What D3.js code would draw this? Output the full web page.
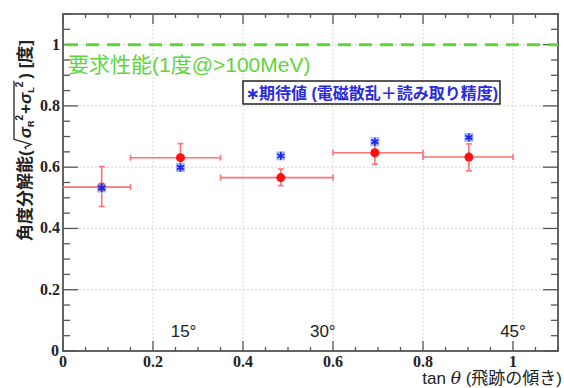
<!DOCTYPE html>
<html>
<head>
<meta charset="utf-8">
<script src="https://cdn.jsdelivr.net/npm/d3@7"></script>
<style>
  body { margin: 0; background: #fff; }
  svg { display: block; }
</style>
</head>
<body>
<svg id="chart" width="564" height="388"></svg>
<script>
// measured values (tan theta bins)
const binCenters = [0.086, 0.261, 0.484, 0.693, 0.902];
const binLow = [0.0, 0.15, 0.35, 0.6, 0.8];
const binHigh = [0.15, 0.35, 0.6, 0.8, 1.0];
const measured = [0.535, 0.631, 0.566, 0.647, 0.633];
const errLow = [0.472, 0.588, 0.540, 0.610, 0.588];
const errHigh = [0.602, 0.677, 0.594, 0.680, 0.676];
// expected values (blue stars)
const expected = [0.532, 0.599, 0.637, 0.683, 0.697];
const requirement = 1.0;
const angleLabels = ["15°", "30°", "45°"];
const angleDeg = [15, 30, 45];
const xTicks = [0, 0.2, 0.4, 0.6, 0.8, 1];
const yTicks = [0, 0.2, 0.4, 0.6, 0.8, 1];

const MARGIN = { left: 63, top: 14, right: 6, bottom: 37 };
const W = 564, H = 388;
const svg = d3.select("#chart");

const x = d3.scaleLinear().domain([0, 1.1]).range([MARGIN.left, W - MARGIN.right]);
const y = d3.scaleLinear().domain([0, 1.1]).range([H - MARGIN.bottom, MARGIN.top]);

const axisColor = "#555";
const serif = "Liberation Serif, Times New Roman, serif";
const jp = "Liberation Sans, Noto Sans CJK JP, sans-serif";

// grid
const grid = svg.append("g");
grid.selectAll(".gx").data(xTicks.slice(1)).enter().append("line")
  .attr("x1", d => x(d)).attr("x2", d => x(d))
  .attr("y1", y(0)).attr("y2", y(1.1))
  .attr("stroke", "#d4d4d4").attr("stroke-dasharray", "2,2");
grid.selectAll(".gy").data(yTicks.slice(1)).enter().append("line")
  .attr("x1", x(0)).attr("x2", x(1.1))
  .attr("y1", d => y(d)).attr("y2", d => y(d))
  .attr("stroke", "#d4d4d4").attr("stroke-dasharray", "2,2");

// axes with inward ticks on all four sides
const minorX = d3.range(0, 1.1001, 0.05);
const minorY = d3.range(0, 1.1001, 0.05);
const isMajor = v => Math.abs(v * 5 - Math.round(v * 5)) < 1e-6;

const ax = svg.append("g").attr("stroke", axisColor).attr("stroke-width", 1.3);
ax.selectAll(".tb").data(minorX).enter().append("line")
  .attr("x1", d => x(d)).attr("x2", d => x(d))
  .attr("y1", y(0)).attr("y2", d => y(0) - (isMajor(d) ? 10 : 4));
ax.selectAll(".tt").data(minorX).enter().append("line")
  .attr("x1", d => x(d)).attr("x2", d => x(d))
  .attr("y1", y(1.1)).attr("y2", d => y(1.1) + (isMajor(d) ? 10 : 4));
ax.selectAll(".tl").data(minorY).enter().append("line")
  .attr("y1", d => y(d)).attr("y2", d => y(d))
  .attr("x1", x(0)).attr("x2", d => x(0) + (isMajor(d) ? 15 : 7));
ax.selectAll(".tr").data(minorY).enter().append("line")
  .attr("y1", d => y(d)).attr("y2", d => y(d))
  .attr("x1", x(1.1)).attr("x2", d => x(1.1) - (isMajor(d) ? 15 : 7));
svg.append("rect")
  .attr("x", x(0)).attr("y", y(1.1))
  .attr("width", x(1.1) - x(0)).attr("height", y(0) - y(1.1))
  .attr("fill", "none").attr("stroke", axisColor).attr("stroke-width", 1.8);

// tick labels
svg.selectAll(".xl").data(xTicks).enter().append("text")
  .attr("x", d => x(d)).attr("y", 367)
  .attr("text-anchor", "middle")
  .attr("font-family", serif).attr("font-weight", "bold").attr("font-size", 16)
  .attr("fill", "#222").text(d => d3.format("~g")(d));
svg.selectAll(".yl").data(yTicks).enter().append("text")
  .attr("x", d => d === 0 ? 59 : 60).attr("y", d => y(d) + 5)
  .attr("text-anchor", "end")
  .attr("font-family", serif).attr("font-weight", "bold").attr("font-size", 16)
  .attr("fill", "#222").text(d => d3.format("~g")(d));

// requirement line
svg.append("line")
  .attr("x1", x(0)).attr("x2", x(1.1))
  .attr("y1", y(requirement)).attr("y2", y(requirement))
  .attr("stroke", "#5fd43c").attr("stroke-width", 3)
  .attr("stroke-dasharray", "13,8").attr("stroke-dashoffset", -2);
svg.append("text")
  .attr("x", 68).attr("y", 72)
  .attr("font-family", jp).attr("font-size", 21)
  .attr("fill", "#5fd43c")
  .text("要求性能(1度@>100MeV)");

// legend
svg.append("rect")
  .attr("x", 243).attr("y", 81).attr("width", 257).attr("height", 23)
  .attr("fill", "#fff").attr("stroke", "#222").attr("stroke-width", 1.5);
svg.append("text")
  .attr("x", 246).attr("y", 98.5)
  .attr("font-family", jp).attr("font-weight", "bold").attr("font-size", 16)
  .attr("fill", "#2b2bdc")
  .text("∗期待値 (電磁散乱＋読み取り精度)");

// measured error bars
const red = "#ff7373";
const pts = binCenters.map((c, i) => ({
  c, lo: binLow[i], hi: binHigh[i], v: measured[i], el: errLow[i], eh: errHigh[i], e: expected[i]
}));
const eb = svg.append("g").attr("stroke", red).attr("stroke-width", 1.6);
eb.selectAll(".h").data(pts).enter().append("line")
  .attr("x1", d => x(d.lo)).attr("x2", d => x(d.hi))
  .attr("y1", d => y(d.v)).attr("y2", d => y(d.v));
eb.selectAll(".hc").data(pts.filter(d => d.lo > 0)).enter().append("line")
  .attr("x1", d => x(d.lo)).attr("x2", d => x(d.lo))
  .attr("y1", d => y(d.v) - 3).attr("y2", d => y(d.v) + 3);
eb.selectAll(".hc2").data(pts).enter().append("line")
  .attr("x1", d => x(d.hi)).attr("x2", d => x(d.hi))
  .attr("y1", d => y(d.v) - 3).attr("y2", d => y(d.v) + 3);
eb.selectAll(".v").data(pts).enter().append("line")
  .attr("x1", d => x(d.c)).attr("x2", d => x(d.c))
  .attr("y1", d => y(d.el)).attr("y2", d => y(d.eh));
eb.selectAll(".vc").data(pts.flatMap(d => [[d.c, d.el], [d.c, d.eh]])).enter().append("line")
  .attr("x1", d => x(d[0]) - 3).attr("x2", d => x(d[0]) + 3)
  .attr("y1", d => y(d[1])).attr("y2", d => y(d[1]));

// measured points
svg.selectAll(".pt").data(pts).enter().append("circle")
  .attr("cx", d => x(d.c)).attr("cy", d => y(d.v)).attr("r", 4.5)
  .attr("fill", "#ff1010");

// expected (blue stars on a light square)
const star = svg.append("g");
star.selectAll("rect").data(pts).enter().append("rect")
  .attr("x", d => x(d.c) - 4.5).attr("y", d => y(d.e) - 4.5)
  .attr("width", 9).attr("height", 9)
  .attr("fill", "#8fa0ff").attr("opacity", 0.75);
star.selectAll("path").data(pts).enter().append("path")
  .attr("transform", d => `translate(${x(d.c)},${y(d.e)})`)
  .attr("d", d3.symbol(d3.symbolAsterisk, 45)())
  .attr("stroke", "#1a22e0").attr("stroke-width", 1.6).attr("fill", "none");

// angle labels
svg.selectAll(".ang").data(angleLabels).enter().append("text")
  .attr("x", (d, i) => x(Math.tan(angleDeg[i] * Math.PI / 180)))
  .attr("y", 337)
  .attr("text-anchor", "middle")
  .attr("font-family", "Liberation Sans, Arial, sans-serif").attr("font-size", 17)
  .attr("fill", "#222").text(d => d);

// x axis title
const xt = svg.append("text")
  .attr("x", 562).attr("y", 384).attr("text-anchor", "end")
  .attr("font-family", jp).attr("font-size", 17).attr("fill", "#222");
xt.append("tspan").text("tan ");
xt.append("tspan").attr("font-style", "italic").attr("font-family", "DejaVu Serif, serif").text("θ");
xt.append("tspan").text(" (飛跡の傾き)");

// y axis title: pieces laid out along the rotated baseline
const yg = svg.append("g").attr("transform", "translate(31,241) rotate(-90)")
  .attr("font-family", jp).attr("font-weight", "bold").attr("fill", "#222");
let cx = 0;
function piece(str, size, dy, italic) {
  const t = yg.append("text").attr("x", cx).attr("y", dy)
    .attr("font-size", size).text(str);
  if (italic) t.attr("font-style", "italic");
  cx += t.node().getComputedTextLength();
  return t;
}
piece("角度分解能(", 17, 0);
const rx = cx + 1;
cx += 12;
piece("σ", 17, 0, true);
piece("R", 9, 3);
piece("2", 10, -8);
cx += 1;
piece("+", 17, 0);
piece("σ", 17, 0, true);
piece("L", 9, 3);
piece("2", 10, -8);
cx += 1;
const radEnd = cx;
cx += 2;
piece(") [度]", 17, 0);
yg.append("path")
  .attr("d", `M${rx},-5 l2,-1 l3,6 l5,-17 H${radEnd}`)
  .attr("fill", "none").attr("stroke", "#222").attr("stroke-width", 1.3);
</script>
</body>
</html>
